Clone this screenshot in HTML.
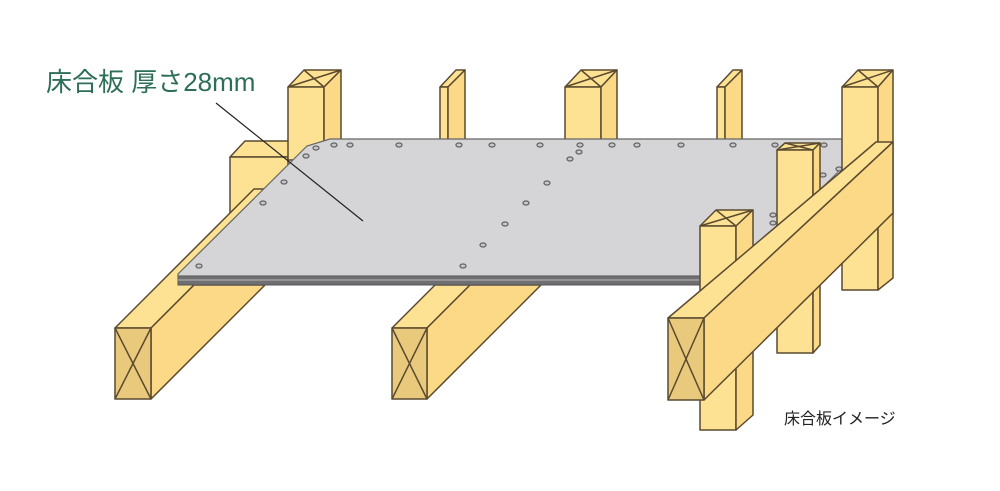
<!DOCTYPE html>
<html><head><meta charset="utf-8"><style>
html,body{margin:0;padding:0;background:#fff;width:1000px;height:491px;overflow:hidden}
svg{display:block}
</style></head><body>
<svg width="1000" height="491" viewBox="0 0 1000 491" xmlns="http://www.w3.org/2000/svg">
<g stroke="#5b4a2e" stroke-width="1.5" stroke-linejoin="round">
<!-- back sill block -->
<polygon points="230,157 245,141 300,141 288,157" fill="#fde294"/>
<polygon points="230,157 288,157 288,230 230,230" fill="#fde294"/>
<!-- left joist -->
<polygon points="115,328 151,328 290,189 254,189" fill="#fde294"/>
<polygon points="151,328 151,399 265,285 194,285" fill="#fcd987"/>
<polygon points="115,328 151,328 151,399 115,399" fill="#e9c97c"/>
<line x1="115" y1="328" x2="151" y2="399"/><line x1="151" y1="328" x2="115" y2="399"/>
<!-- middle joist -->
<polygon points="392,328 427,328 470,285 435,285" fill="#fde294"/>
<polygon points="427,328 427,399 541,285 470,285" fill="#fcd987"/>
<polygon points="392,328 427,328 427,399 392,399" fill="#e9c97c"/>
<line x1="392" y1="328" x2="427" y2="399"/><line x1="427" y1="328" x2="392" y2="399"/>
<!-- back posts -->
<polygon points="288,87 304,70 341,70 324,87" fill="#fde294"/>
<line x1="288" y1="87" x2="341" y2="70"/><line x1="304" y1="70" x2="324" y2="87"/>
<polygon points="288,87 324,87 324,160 288,160" fill="#fde294"/>
<polygon points="324,87 341,70 341,145 324,160" fill="#fcd987"/>
<polygon points="440,87 456,70 465,70 448,87" fill="#fde294"/>
<polygon points="440,87 448,87 448,146 440,146" fill="#fde294"/>
<polygon points="448,87 465,70 465,146 448,146" fill="#fcd987"/>
<polygon points="565,87 581,70 617,70 601,87" fill="#fde294"/>
<line x1="565" y1="87" x2="617" y2="70"/><line x1="581" y1="70" x2="601" y2="87"/>
<polygon points="565,87 601,87 601,146 565,146" fill="#fde294"/>
<polygon points="601,87 617,70 617,146 601,146" fill="#fcd987"/>
<polygon points="717,87 733,70 742,70 725,87" fill="#fde294"/>
<polygon points="717,87 725,87 725,146 717,146" fill="#fde294"/>
<polygon points="725,87 742,70 742,146 725,146" fill="#fcd987"/>
</g>
<!-- plate -->
<polygon points="178,276 730,276 730,285 178,285" fill="#6f6f72" stroke="#555" stroke-width="1"/>
<line x1="178" y1="280" x2="730" y2="280" stroke="#b8b8bb" stroke-width="1"/>
<polygon points="178,274 307,146 330,139 842,139 860,150 760,250 730,276 178,276" fill="#d5d5d8" stroke="#666" stroke-width="1.2"/>
<polygon points="860,150 870,150 770,252 760,250" fill="#eeeef0" stroke="#777" stroke-width="1"/>
<g fill="#c9c9cc" stroke="#666" stroke-width="1.3">
<ellipse cx="306" cy="156" rx="3" ry="2"/><ellipse cx="316" cy="148" rx="3" ry="2"/><ellipse cx="334" cy="145" rx="3" ry="2"/><ellipse cx="350" cy="145" rx="3" ry="2"/><ellipse cx="399" cy="145" rx="3" ry="2"/><ellipse cx="459" cy="145" rx="3" ry="2"/><ellipse cx="492" cy="145" rx="3" ry="2"/><ellipse cx="540" cy="145" rx="3" ry="2"/><ellipse cx="580" cy="145" rx="3" ry="2"/><ellipse cx="612" cy="145" rx="3" ry="2"/><ellipse cx="637" cy="145" rx="3" ry="2"/><ellipse cx="681" cy="145" rx="3" ry="2"/><ellipse cx="733" cy="145" rx="3" ry="2"/><ellipse cx="775" cy="145" rx="3" ry="2"/><ellipse cx="824" cy="145" rx="3" ry="2"/><ellipse cx="579" cy="152" rx="3" ry="2"/><ellipse cx="570" cy="159" rx="3" ry="2"/><ellipse cx="547" cy="183" rx="3" ry="2"/><ellipse cx="526" cy="203" rx="3" ry="2"/><ellipse cx="505" cy="224" rx="3" ry="2"/><ellipse cx="483" cy="245" rx="3" ry="2"/><ellipse cx="463" cy="266" rx="3" ry="2"/><ellipse cx="199" cy="266" rx="3" ry="2"/><ellipse cx="263" cy="203" rx="3" ry="2"/><ellipse cx="284" cy="182" rx="3" ry="2"/><ellipse cx="845" cy="150" rx="3" ry="2"/><ellipse cx="846" cy="160" rx="3" ry="2"/><ellipse cx="839" cy="169" rx="3" ry="2"/><ellipse cx="823" cy="175" rx="3" ry="2"/><ellipse cx="773" cy="215" rx="3" ry="2"/><ellipse cx="773" cy="223" rx="3" ry="2"/>
</g>
<g stroke="#5b4a2e" stroke-width="1.5" stroke-linejoin="round">
<!-- back right post -->
<polygon points="842,87 858,70 893,70 878,87" fill="#fde294"/>
<line x1="842" y1="87" x2="893" y2="70"/><line x1="858" y1="70" x2="878" y2="87"/>
<polygon points="842,87 878,87 878,290 842,290" fill="#fde294"/>
<polygon points="878,87 893,70 893,278 878,290" fill="#fcd987"/>
<!-- middle right post -->
<polygon points="777,150 785,143 820,143 813,150" fill="#fde294"/>
<line x1="777" y1="150" x2="820" y2="143"/><line x1="785" y1="143" x2="813" y2="150"/>
<polygon points="777,150 813,150 813,353 777,353" fill="#fde294"/>
<polygon points="813,150 820,143 820,345 813,353" fill="#fcd987"/>
<!-- front right post -->
<polygon points="700,226 716,210 753,210 736,226" fill="#fde294"/>
<line x1="700" y1="226" x2="753" y2="210"/><line x1="716" y1="210" x2="736" y2="226"/>
<polygon points="700,226 736,226 736,430 700,430" fill="#fde294"/>
<polygon points="736,226 753,210 753,415 736,430" fill="#fcd987"/>
<!-- girder -->
<polygon points="668,318 704,318 893,142 876,142 862,154" fill="#fde294"/>
<polygon points="704,318 704,400 893,213 893,142" fill="#fcd987"/>
<polygon points="668,318 704,318 704,400 668,400" fill="#e9c97c"/>
<line x1="668" y1="318" x2="704" y2="400"/><line x1="704" y1="318" x2="668" y2="400"/>
</g>
<line x1="216" y1="103" x2="363" y2="221" stroke="#222" stroke-width="1.2"/>
<text x="46" y="91" font-family="Liberation Sans, Noto Sans CJK JP, sans-serif" font-size="26" fill="#2d6e58">床合板 厚さ28mm</text>
<text x="784" y="424" font-family="Liberation Sans, Noto Sans CJK JP, sans-serif" font-size="16" fill="#222">床合板イメージ</text>
</svg>
</body></html>
